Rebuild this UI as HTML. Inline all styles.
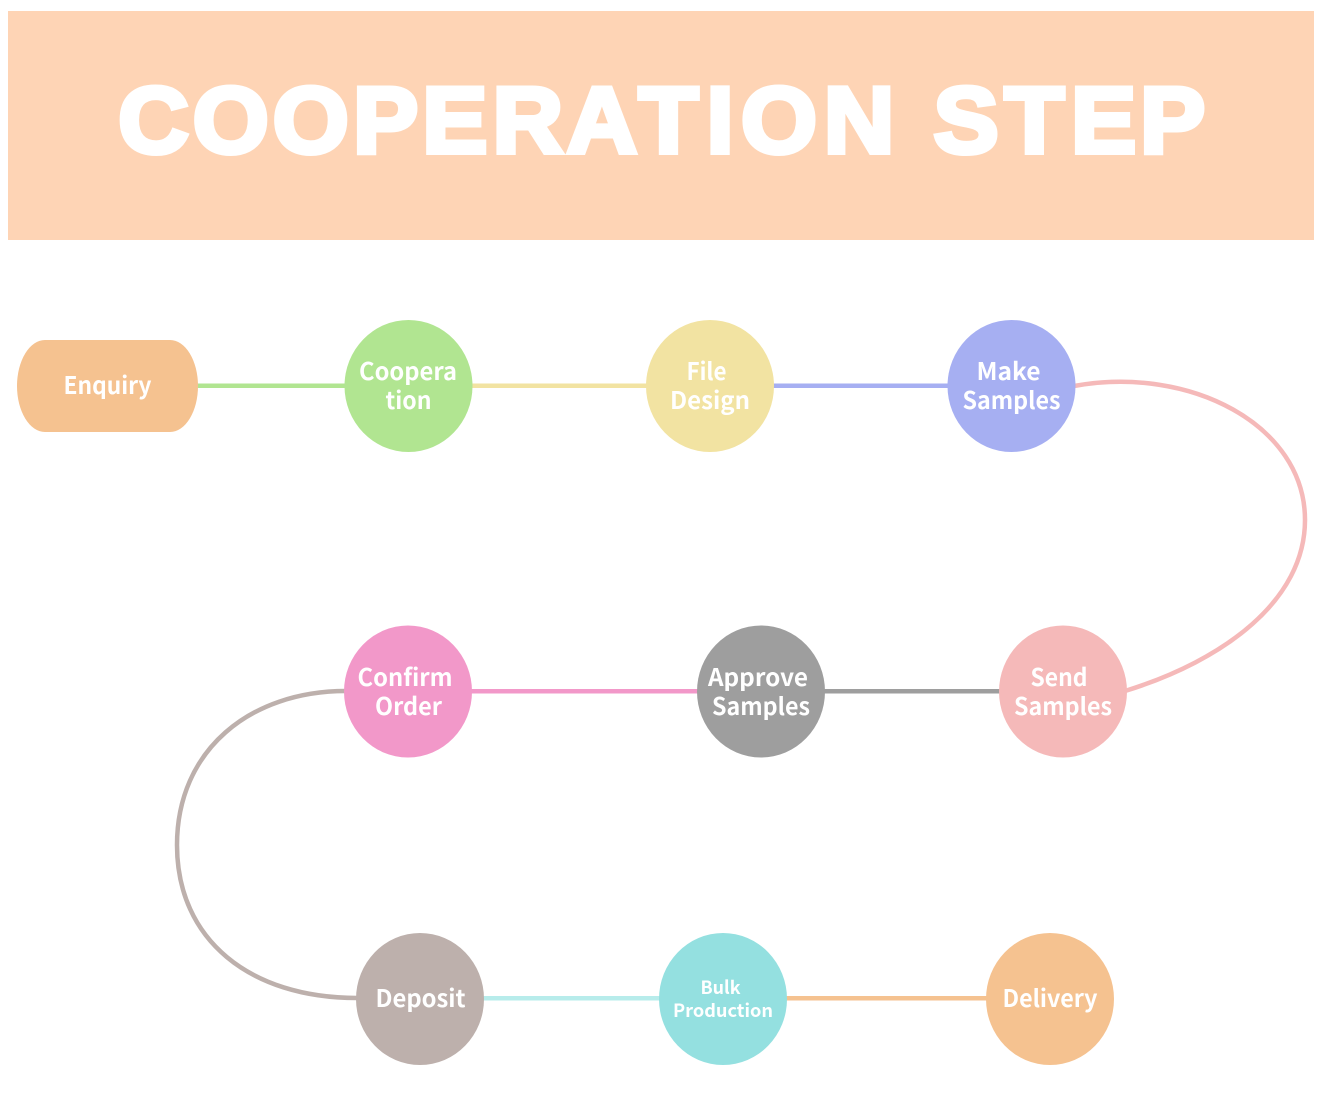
<!DOCTYPE html>
<html><head><meta charset="utf-8"><style>
html,body{margin:0;padding:0;background:#fff}
svg{display:block}
.t{font-family:"Noto Sans CJK SC","Liberation Sans",sans-serif;font-weight:700;font-size:24px;fill:#fff;text-anchor:middle}
</style></head><body>
<svg width="1321" height="1093" viewBox="0 0 1321 1093" xmlns="http://www.w3.org/2000/svg">
<rect width="1321" height="1093" fill="#fff"/>
<rect x="8" y="11" width="1306" height="229" fill="#fed4b5"/>
<text transform="scale(1.04,1)" y="152.500" x="113.650 185.300 262.300 339.400 406 473.600 544.800 614.100 679.300 712.500 792.100 880 897.600 965.900 1029.800 1096.200" font-family="Liberation Sans, sans-serif" font-weight="700" font-size="94" fill="#fff" stroke="#fff" stroke-width="5" stroke-linejoin="miter">COOPERATION STEP</text>

<g fill="none" stroke-width="4.500">
<path d="M197 385.700H346" stroke="#b1e591"/>
<path d="M471 385.700H647" stroke="#f2e3a2"/>
<path d="M773 385.700H949" stroke="#a6aff2"/>
<path d="M1074 386C1190 365 1305 425 1305 520C1305 600 1225 660 1125 691" stroke="#f5b9b9"/>
<path d="M471 691.300H698" stroke="#f298c9"/>
<path d="M824 691.300H1000" stroke="#9e9e9e"/>
<path d="M346 691C250 691 177 750 177 845C177 940 250 998 357 998" stroke="#bdb0ac"/>
<path d="M483 998.300H660" stroke="#b7eceb"/>
<path d="M786 998.300H987" stroke="#f5c290"/>
</g>

<rect x="17" y="340" width="181" height="92" rx="28" ry="46" fill="#f5c290"/>
<ellipse cx="408.500" cy="386" rx="64" ry="66" fill="#b1e591"/>
<ellipse cx="710" cy="386" rx="64" ry="66" fill="#f2e3a2"/>
<ellipse cx="1011.500" cy="386" rx="64" ry="66" fill="#a6aff2"/>
<ellipse cx="408" cy="691.500" rx="64" ry="66" fill="#f298c9"/>
<ellipse cx="761" cy="691.500" rx="64" ry="66" fill="#9e9e9e"/>
<ellipse cx="1063" cy="691.500" rx="64" ry="66" fill="#f5b9b9"/>
<ellipse cx="420" cy="999" rx="64" ry="66" fill="#bdb0ac"/>
<ellipse cx="723" cy="999" rx="64" ry="66" fill="#94e0e0"/>
<ellipse cx="1050" cy="999" rx="64" ry="66" fill="#f5c290"/>

<text class="t" x="107.500" y="394" textLength="88" lengthAdjust="spacingAndGlyphs">Enquiry</text>
<text class="t" x="408" y="380" textLength="98" lengthAdjust="spacingAndGlyphs">Coopera</text>
<text class="t" x="408.500" y="409" textLength="46" lengthAdjust="spacingAndGlyphs">tion</text>
<text class="t" x="706.500" y="380" textLength="40" lengthAdjust="spacingAndGlyphs">File</text>
<text class="t" x="710" y="409" textLength="80" lengthAdjust="spacingAndGlyphs">Design</text>
<text class="t" x="1008.500" y="380" textLength="64" lengthAdjust="spacingAndGlyphs">Make</text>
<text class="t" x="1011.500" y="409" textLength="98" lengthAdjust="spacingAndGlyphs">Samples</text>
<text class="t" x="405" y="686" textLength="95" lengthAdjust="spacingAndGlyphs">Confirm</text>
<text class="t" x="408.500" y="715" textLength="67" lengthAdjust="spacingAndGlyphs">Order</text>
<text class="t" x="758" y="686" textLength="100" lengthAdjust="spacingAndGlyphs">Approve</text>
<text class="t" x="761" y="715" textLength="98" lengthAdjust="spacingAndGlyphs">Samples</text>
<text class="t" x="1059" y="686" textLength="57" lengthAdjust="spacingAndGlyphs">Send</text>
<text class="t" x="1063" y="715" textLength="98" lengthAdjust="spacingAndGlyphs">Samples</text>
<text class="t" x="420.500" y="1007" textLength="90" lengthAdjust="spacingAndGlyphs">Deposit</text>
<text class="t" x="720.500" y="994" style="font-size:18px" textLength="40" lengthAdjust="spacingAndGlyphs">Bulk</text>
<text class="t" x="723" y="1017" style="font-size:18px" textLength="100" lengthAdjust="spacingAndGlyphs">Production</text>
<text class="t" x="1050" y="1007" textLength="95" lengthAdjust="spacingAndGlyphs">Delivery</text>
</svg>
</body></html>
